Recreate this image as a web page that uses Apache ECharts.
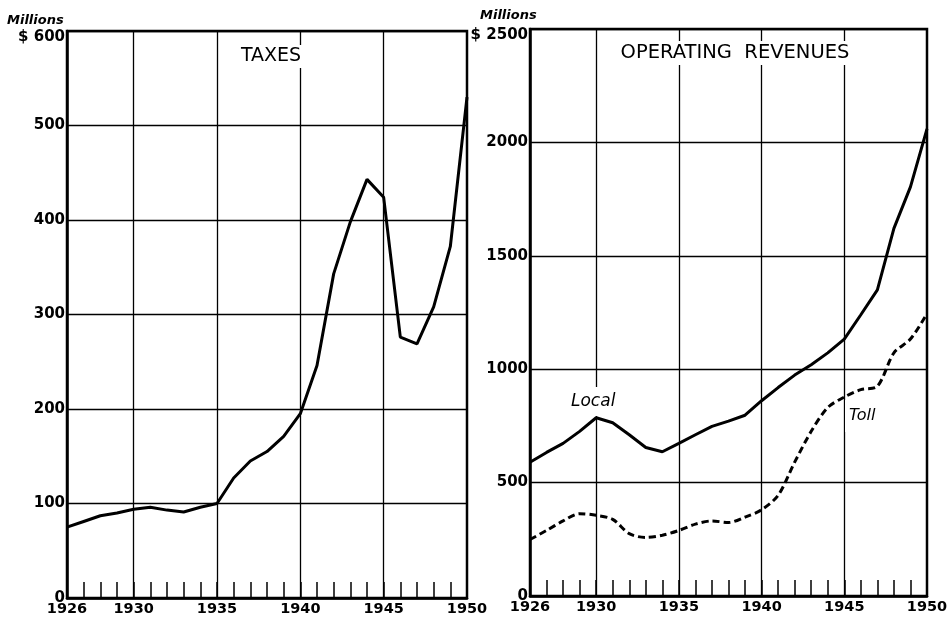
<!DOCTYPE html>
<html><head><meta charset="utf-8">
<script src="https://cdn.jsdelivr.net/npm/echarts@6/dist/echarts.min.js"></script>
<style>html,body{margin:0;padding:0;background:#fff}#c{width:951px;height:621px}</style>
</head><body><div id="c"></div>
<script>
const years = [1926,1927,1928,1929,1930,1931,1932,1933,1934,1935,1936,1937,1938,1939,1940,1941,1942,1943,1944,1945,1946,1947,1948,1949,1950];
const taxes = [75,81,87,90,94,96,93,91,96,100,127,145,155,171,195,246,343,398,443,424,276,269,308,372,530];
const localRev = [590,633,673,726,786,764,711,655,636,673,711,748,771,797,861,919,974,1020,1072,1133,1240,1350,1621,1804,2060];
const tollRev = [249,289,331,363,356,338,275,258,268,289,317,331,324,348,380,444,590,726,831,877,910,925,1072,1133,1245];
const xLabels = [1926,1930,1935,1940,1945,1950];
const gridYears = [1930,1935,1940,1945];

const F = 'DejaVu Sans';
const pairs = arr => years.map((y,i)=>[y,arr[i]]);
function xAxisFor(gi){
  return {type:'value', gridIndex:gi, min:1926, max:1950, interval:1,
    axisLine:{show:true,lineStyle:{color:'#000',width:2.5}},
    axisTick:{show:true,inside:true,length:16,lineStyle:{color:'#000',width:1.5}},
    splitLine:{show:false},
    axisLabel:{margin:4,color:'#000',fontFamily:F,fontSize:14.5,fontWeight:'bold',
      formatter:v=>xLabels.indexOf(v)>=0?String(v):''}};
}
function yAxisFor(gi,max,step){
  return {type:'value', gridIndex:gi, min:0, max:max, interval:step,
    axisLine:{show:true,lineStyle:{color:'#000',width:2.5}},
    axisTick:{show:false},
    splitLine:{show:true,lineStyle:{color:'#000',width:1.3}},
    axisLabel:{margin:2,color:'#000',fontFamily:F,fontSize:15,fontWeight:'bold',
      formatter:v=>v===max?'{top|$ '+v+'}':String(v),
      rich:{top:{fontFamily:F,fontSize:15,fontWeight:'bold',color:'#000',padding:[12,0,0,0]}}}};
}
const vLines = {silent:true,symbol:'none',label:{show:false},
  lineStyle:{color:'#000',width:1.3,type:'solid'},
  data:gridYears.map(y=>({xAxis:y}))};

const chart = echarts.init(document.getElementById('c'));
chart.setOption({
  animation:false,
  backgroundColor:'#fff',
  grid:[
    {left:67,right:484,top:31,bottom:23,show:true,borderColor:'#000',borderWidth:2.5,backgroundColor:'transparent'},
    {left:530,right:24,top:29,bottom:25,show:true,borderColor:'#000',borderWidth:2.5,backgroundColor:'transparent'}
  ],
  xAxis:[xAxisFor(0),xAxisFor(1)],
  yAxis:[yAxisFor(0,600,100),yAxisFor(1,2500,500)],
  title:[
    {text:'TAXES',left:268,top:45,textAlign:'center',padding:[2,3],backgroundColor:'#fff',
      textStyle:{fontFamily:F,fontSize:19,fontWeight:'normal',color:'#000'}},
    {text:'OPERATING  REVENUES',left:729,top:41,textAlign:'center',padding:[2,6],backgroundColor:'#fff',
      textStyle:{fontFamily:F,fontSize:19.5,fontWeight:'normal',color:'#000'}},
    {text:'Millions',left:7,top:14,padding:0,
      textStyle:{fontFamily:F,fontSize:13,fontStyle:'italic',fontWeight:'bold',color:'#000'}},
    {text:'Millions',left:480,top:9,padding:0,
      textStyle:{fontFamily:F,fontSize:13,fontStyle:'italic',fontWeight:'bold',color:'#000'}},
    {text:'Local',left:568,top:387,padding:[6,3],backgroundColor:'#fff',
      textStyle:{fontFamily:F,fontSize:17,fontStyle:'italic',fontWeight:'normal',color:'#000'}},
    {text:'Toll',left:845,top:400,padding:[8,4],backgroundColor:'#fff',
      textStyle:{fontFamily:F,fontSize:16,fontStyle:'italic',fontWeight:'normal',color:'#000'}}
  ],
  series:[
    {type:'line',xAxisIndex:0,yAxisIndex:0,data:pairs(taxes),showSymbol:false,z:3,
      lineStyle:{color:'#000',width:3},markLine:vLines},
    {type:'line',xAxisIndex:1,yAxisIndex:1,data:pairs(localRev),showSymbol:false,z:3,
      lineStyle:{color:'#000',width:3},markLine:vLines},
    {type:'line',xAxisIndex:1,yAxisIndex:1,data:pairs(tollRev),showSymbol:false,smooth:0.3,z:3,
      lineStyle:{color:'#000',width:3,type:[7,4]}}
  ]
});
</script></body></html>
